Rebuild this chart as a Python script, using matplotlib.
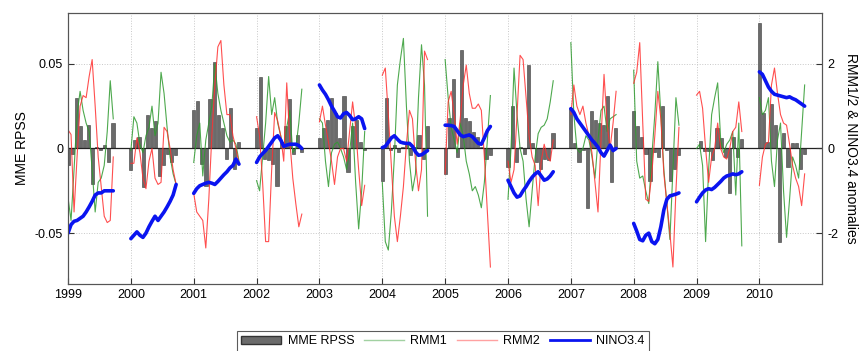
import numpy as np
import matplotlib
matplotlib.use("Agg")
import matplotlib.pyplot as plt
from matplotlib.patches import Patch
from matplotlib.lines import Line2D

plt.rcParams['font.family'] = ['Liberation Sans', 'DejaVu Sans']

years = list(range(1999, 2011))

# MME RPSS bars, 12 per year (left axis)
mme_rpss = [
    [-0.010, -0.003, 0.030, 0.013, 0.005, 0.014, -0.021, 0.001, -0.001, 0.002, -0.008, 0.015],
    [-0.013, 0.005, 0.007, -0.023, 0.020, 0.012, 0.016, -0.016, -0.010, -0.003, -0.008, -0.004],
    [0.023, 0.028, -0.009, -0.022, 0.029, 0.051, 0.020, 0.012, -0.006, 0.024, -0.012, 0.004],
    [0.012, 0.042, -0.006, -0.007, -0.009, -0.022, 0.004, 0.013, 0.029, -0.003, 0.008, -0.002],
    [0.006, 0.012, 0.017, 0.030, 0.021, 0.006, 0.031, -0.014, 0.013, 0.017, 0.004, -0.001],
    [-0.019, 0.030, -0.001, 0.002, -0.002, 0.001, 0.002, -0.004, 0.001, 0.008, -0.006, 0.013],
    [-0.015, 0.018, 0.041, -0.005, 0.058, 0.018, 0.016, 0.010, 0.007, 0.001, -0.006, -0.004],
    [-0.011, 0.025, -0.008, 0.001, -0.003, 0.049, 0.003, -0.008, -0.012, -0.006, -0.007, 0.009],
    [0.024, 0.003, -0.008, -0.001, -0.035, 0.022, 0.017, 0.015, 0.014, 0.031, -0.020, 0.012],
    [0.022, 0.013, 0.007, -0.003, -0.019, -0.002, -0.005, 0.025, -0.001, -0.019, -0.012, -0.004],
    [0.000, 0.0045, -0.0015, -0.0015, -0.007, 0.012, 0.006, -0.005, -0.026, 0.0065, -0.005, 0.0055],
    [0.074, 0.021, 0.004, 0.026, 0.014, -0.055, 0.009, -0.011, 0.003, 0.003, -0.012, -0.003],
]

# RMM1, RMM2, NINO3.4, 16 points per year (right axis)
rmm1 = [
    [-1.16, -1.7, -0.5, 0.8, 1.35, 0.9, 0.6, 0.4, -0.5, -1.5, -0.8, -0.7, -0.4, 0.4, 1.6, 0.7],
    [-0.05, 0.75, 0.6, 0.1, -0.1, 0.3, 0.5, 1.0, 0.3, 0.6, 1.8, 1.3, 0.5, -0.2, -0.6, -0.85],
    [-0.33, 0.3, 0.6, -0.65, 0.2, 0.6, 1.0, 2.0, 1.3, 0.9, 0.6, 0.3, 0.15, 0.2, 0.1, -0.3],
    [-0.76, -1.0, -0.2, 0.6, 1.7, 0.8, 1.2, 0.6, 0.3, 0.0, 0.5, 0.9, -0.1, 0.0, 0.6, 1.4],
    [0.7, 0.6, -0.3, -0.9, -0.1, 0.1, 0.15, 0.0, -0.2, -0.5, -0.1, 0.6, -0.8, -1.9, -1.0, 0.4],
    [-0.8, -2.2, -2.4, -1.5, -0.2, 1.5, 2.1, 2.6, 1.0, -0.3, -1.0, -0.6, 1.2, 2.45, 1.5, -1.6],
    [2.1, 1.2, 0.5, 0.2, -0.1, 0.6, 0.3, -0.3, -0.6, -1.0, -0.9, -1.1, -1.4, -0.8, 0.2, 1.25],
    [-1.2, 0.0, 1.9, 0.8, 0.0, -0.3, -1.2, -1.85, -1.0, -0.2, 0.35, 0.5, 0.55, 0.7, 1.1, 1.6],
    [2.5, 0.8, 0.0, -0.1, 0.0, 0.3, 0.2, -0.2, -0.7, 0.2, 0.9, 1.0, 0.4, 0.7, 0.75, 0.8],
    [1.85, -0.3, -0.7, -0.65, -1.0, -1.3, -0.2, 0.8, 2.05, 0.8, -0.5, -1.3, -2.15, -0.5, 1.2, 0.55],
    [0.0, 0.1, -0.4, -2.2, -0.5, 0.8, 1.2, 1.55, 0.2, -0.1, 0.1, 0.2, 0.4, -1.1, 0.6, -2.3],
    [1.2, 0.8, 0.9, 1.2, -0.3, -0.9, 0.2, 0.6, -1.0, -2.1, -1.2, -0.2, -0.4, -0.7, 0.4, 1.5],
]

rmm2 = [
    [0.44, 0.33, -1.5, -0.2, 1.0, 1.25, 1.2, 1.7, 2.1, 1.0, -0.2, -0.9, -1.6, -1.75, -1.7, -0.2],
    [-0.35, -0.35, 0.25, -0.1, -0.7, -0.95, -0.3, 0.0, -0.7, -0.85, -0.8, 0.5, 0.4, 0.0, -0.5, -0.85],
    [-1.06, -1.5, -1.6, -1.7, -2.35, -1.2, 0.3, 1.5, 2.4, 2.55, 1.5, 0.8, 0.8, 0.3, 0.0, -0.35],
    [0.75, 0.3, -0.8, -2.2, -2.2, -0.5, 0.85, 0.65, 0.3, -0.3, 1.55, 0.2, -0.7, -1.3, -1.85, -1.55],
    [0.63, 1.0, 0.55, 0.15, -0.3, -0.85, -0.2, 0.0, 0.0, -0.3, 0.4, 1.1, 0.5, -0.5, -1.35, -0.87],
    [1.73, 1.9, 0.8, -0.4, -1.6, -2.2, -1.6, -0.9, 0.1, 0.9, 0.7, -0.3, -1.0, -0.5, 2.3, 2.1],
    [-0.6, 1.1, 1.35, 0.8, 0.1, 0.7, 1.5, 1.97, 1.3, 0.95, 0.95, 1.05, 0.9, -0.2, -1.5, -2.8],
    [-0.3, -0.8, -0.5, 0.8, 2.2, 2.1, 1.2, 0.3, -0.2, -0.4, -1.35, -0.3, 0.1, -0.2, -0.3, 0.2],
    [0.8, 1.5, 1.0, 0.8, 1.0, 0.6, 0.3, -0.1, -0.8, -1.5, 0.2, 1.75, 0.6, 0.0, 0.6, 1.35],
    [1.54, 1.8, 2.5, 0.6, -1.2, -1.25, -0.6, 0.3, 1.35, 0.7, -0.6, -1.3, -2.0, -2.8, -1.0, 0.5],
    [1.26, 1.35, 0.95, 0.0, -0.8, -0.2, 0.0, 0.6, 0.0, -0.2, -0.25, 0.0, 0.4, 0.5, 1.1, 0.4],
    [-0.87, -0.2, 0.1, 0.15, 1.5, 1.9, 1.3, 0.8, 0.6, 0.55, 0.1, -0.4, -0.7, -0.9, -1.35, -0.6],
]

nino34 = [
    [-2.0, -1.8, -1.72, -1.7, -1.65, -1.6, -1.5, -1.38, -1.25, -1.1, -1.05, -1.05, -1.0, -1.0, -1.0, -1.0],
    [-2.13, -2.05, -1.97, -2.05, -2.1, -2.0, -1.85, -1.72, -1.6, -1.7, -1.6, -1.5, -1.38, -1.25, -1.1, -0.85],
    [-1.06, -0.95, -0.88, -0.85, -0.82, -0.8, -0.82, -0.85, -0.78, -0.7, -0.62, -0.55, -0.46, -0.4, -0.25, -0.37],
    [-0.33, -0.2, -0.12, -0.05, 0.05, 0.15, 0.25, 0.3, 0.2, 0.05, 0.08, 0.1, 0.1, 0.1, 0.07, 0.0],
    [1.5, 1.38, 1.28, 1.15, 1.0, 0.88, 0.75, 0.72, 0.82, 0.85, 0.78, 0.68, 0.7, 0.75, 0.7, 0.47],
    [0.02, 0.05, 0.15, 0.25, 0.3, 0.22, 0.15, 0.13, 0.12, 0.12, 0.05, -0.08, -0.16, -0.15, -0.1, -0.05],
    [0.55, 0.55, 0.54, 0.52, 0.42, 0.32, 0.28, 0.3, 0.32, 0.28, 0.2, 0.12, 0.1, 0.25, 0.42, 0.52],
    [-0.75, -0.9, -1.05, -1.15, -1.12, -1.0, -0.9, -0.78, -0.68, -0.6, -0.55, -0.65, -0.75, -0.72, -0.65, -0.55],
    [0.94, 0.85, 0.7, 0.6, 0.5, 0.4, 0.3, 0.2, 0.12, 0.03, -0.1, -0.18, -0.05, 0.08, -0.05, 0.0],
    [-1.77, -1.95, -2.15, -2.18, -2.05, -2.0, -2.2, -2.25, -2.15, -1.85, -1.45, -1.2, -1.12, -1.1, -1.08, -1.05],
    [-1.26, -1.15, -1.05, -0.98, -0.95, -0.97, -0.92, -0.85, -0.78, -0.7, -0.65, -0.63, -0.6, -0.62, -0.6, -0.55],
    [1.81, 1.75, 1.6, 1.45, 1.35, 1.28, 1.26, 1.24, 1.22, 1.2, 1.22, 1.18, 1.15, 1.1, 1.05, 1.0],
]

bar_color = '#6b6b6b'
green = '#2f9a2f'
red = '#ff3030'
blue = '#0a14f0'

fig = plt.figure(figsize=(8.61, 3.51), dpi=100)
ax = fig.add_axes([0.079, 0.191, 0.876, 0.772])
ax2 = ax.twinx()

for i, yr in enumerate(years):
    xb = yr + np.arange(len(mme_rpss[i])) * 0.065
    ax.bar(xb, mme_rpss[i], width=0.05, color=bar_color, edgecolor='#3a3a3a',
           linewidth=0.4, zorder=2)
    xl = yr + np.arange(len(rmm1[i])) * 0.048
    ax2.plot(xl, rmm1[i], color=green, lw=0.8, alpha=0.85)
    ax2.plot(xl, rmm2[i], color=red, lw=0.8, alpha=0.85)
    ax2.plot(xl, nino34[i], color=blue, lw=2.6, solid_capstyle='round')

ax.axhline(0, color='#222222', lw=0.9, zorder=3)
ax.set_xlim(1999, 2011)
ax.set_ylim(-0.08, 0.08)
ax2.set_ylim(-3.2, 3.2)

ax.set_xticks(years)
ax.set_xticklabels([str(y) for y in years])
ax.set_yticks([-0.05, 0, 0.05])
ax.set_yticklabels(['-0.05', '0', '0.05'])
ax2.set_yticks([-2, 0, 2])
ax2.set_yticklabels(['-2', '0', '2'])

ax.grid(True, color='#c8c8c8', linestyle=':', lw=0.7, zorder=0)
ax.set_axisbelow(True)

for a in (ax, ax2):
    a.tick_params(direction='in', labelsize=9, length=4, color='#333333')
    for s in a.spines.values():
        s.set_color('#555555')

ax.set_ylabel('MME RPSS', fontsize=10)
ax2.set_ylabel('RMM1/2 & NINO3.4 anomalies', fontsize=10, rotation=-90, labelpad=14)

handles = [
    Patch(facecolor=bar_color, edgecolor='#333333', label='MME RPSS'),
    Line2D([], [], color=green, lw=1.0, alpha=0.45, label='RMM1'),
    Line2D([], [], color=red, lw=1.0, alpha=0.45, label='RMM2'),
    Line2D([], [], color=blue, lw=2.0, label='NINO3.4'),
]
leg = fig.legend(handles=handles, loc='upper left', bbox_to_anchor=(0.268, 0.075),
                 ncol=4, fontsize=9, frameon=True, fancybox=False, edgecolor='#333333',
                 handlelength=3.2, columnspacing=0.8, borderpad=0.35, handletextpad=0.5)
leg.get_frame().set_linewidth(0.8)

fig.savefig('out.png', dpi=100)
